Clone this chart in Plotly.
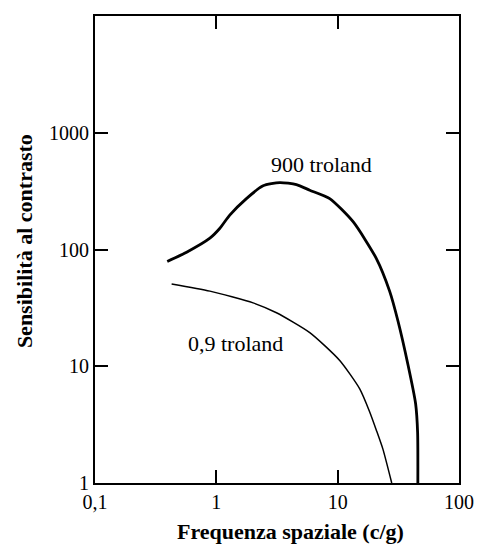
import plotly.graph_objects as go

# 900 troland curve
freq_900 = [0.394, 0.569, 0.885, 1.07, 1.29, 1.77, 2.43, 3.33, 4.57, 5.89, 8.6, 13.4, 20.8, 26.8, 31.4, 37.9, 43.9, 45.6, 45.8]
sens_900 = [79, 94.8, 125, 152, 197, 273, 351, 374, 360, 322, 273, 173, 84, 44, 24.4, 10.4, 4.77, 2.7, 1.0]

# 0.9 troland curve
freq_09 = [0.428, 0.885, 2.01, 3.13, 5.89, 10.4, 15.2, 18.3, 20.8, 23.6, 27.9]
sens_09 = [50.7, 44, 34.9, 28.7, 19.4, 11.2, 6.4, 4.1, 2.85, 1.95, 1.0]

x_tickvals = [0.1, 1, 10, 100]
x_ticktext = ["0,1", "1", "10", "100"]
y_tickvals = [1, 10, 100, 1000]
y_ticktext = ["1", "10", "100", "1000"]

serif = "Liberation Serif"

fig = go.Figure()
fig.add_trace(go.Scatter(x=freq_900, y=sens_900, mode="lines",
                         line=dict(color="black", width=2.8, shape="spline", smoothing=0.6),
                         showlegend=False, hoverinfo="skip"))
fig.add_trace(go.Scatter(x=freq_09, y=sens_09, mode="lines",
                         line=dict(color="black", width=1.5, shape="spline", smoothing=0.6),
                         showlegend=False, hoverinfo="skip"))

# curve labels (log axes: annotation positions given in log10 units)
fig.add_annotation(x=0.868, y=2.73, xref="x", yref="y", text="900 troland", showarrow=False,
                   font=dict(family=serif, size=22, color="black"))
fig.add_annotation(x=0.160, y=1.194, xref="x", yref="y", text="0,9 troland", showarrow=False,
                   font=dict(family=serif, size=22, color="black"))

# axis titles
fig.add_annotation(x=-0.195, y=0.518, xref="paper", yref="paper",
                   text="<b>Sensibilità al contrasto</b>", showarrow=False, textangle=-90,
                   xanchor="center", yanchor="middle",
                   font=dict(family=serif, size=22, color="black"))
fig.add_annotation(x=0.536, y=-0.1045, xref="paper", yref="paper",
                   text="<b>Frequenza spaziale (c/g)</b>", showarrow=False,
                   xanchor="center", yanchor="middle",
                   font=dict(family=serif, size=22, color="black"))

fig.update_layout(
    width=474, height=539,
    margin=dict(l=87, r=23, t=6, b=64),
    plot_bgcolor="white", paper_bgcolor="white",
    xaxis=dict(type="log", range=[-1, 2], tickvals=x_tickvals, ticktext=x_ticktext,
               ticks="inside", ticklen=13, tickwidth=2, tickcolor="black",
               showline=True, linewidth=2, linecolor="black", mirror="ticks",
               showgrid=False, zeroline=False,
               tickfont=dict(family=serif, size=20, color="black")),
    yaxis=dict(type="log", range=[0, 4], tickvals=y_tickvals, ticktext=y_ticktext,
               ticks="inside", ticklen=13, tickwidth=2, tickcolor="black",
               showline=True, linewidth=2, linecolor="black", mirror="ticks",
               showgrid=False, zeroline=False,
               tickfont=dict(family=serif, size=20, color="black")),
)

fig.write_html("out.html")
